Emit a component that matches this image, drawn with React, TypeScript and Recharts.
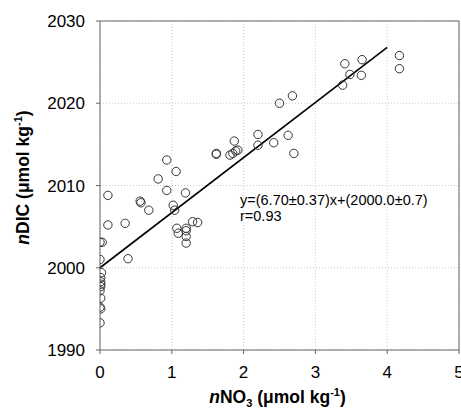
import React from "react"
import {
    ScatterChart,
    Scatter,
    XAxis,
    YAxis,
    CartesianGrid,
    ReferenceLine,
    Customized,
} from "recharts"

// nNO3 (x) and nDIC (y)
const nitrate = [
    0, 0.03, 0, 0.02, 0.01, 0.01, 0.01, 0.01, 0, 0.01, 0, 0.01, 0,
    0.11, 0.11, 0.35, 0.39, 0.56, 0.57, 0.68, 0.81, 0.93, 1.06, 0.93, 1.19,
    1.02, 1.04, 1.07, 1.09, 1.2, 1.2, 1.2, 1.2, 1.29, 1.36,
    1.62, 1.62, 1.81, 1.85, 1.89, 1.92, 1.87, 2.2, 2.2, 2.42, 2.62, 2.7,
    2.5, 2.68, 3.41, 3.65, 3.48, 3.64, 3.38, 4.17, 4.17,
]
const dic = [
    2003.1, 2003.1, 2001.0, 1999.4, 1998.8, 1998.3, 1998.0, 1997.7, 1997.2, 1996.3, 1995.2, 1995.0, 1993.3,
    2008.8, 2005.2, 2005.4, 2001.1, 2008.1, 2007.9, 2007.0, 2010.8, 2013.1, 2011.7, 2009.4, 2009.1,
    2007.6, 2007.0, 2004.8, 2004.2, 2004.8, 2004.5, 2003.8, 2003.0, 2005.6, 2005.5,
    2013.9, 2013.8, 2013.7, 2013.9, 2014.2, 2014.3, 2015.4, 2016.2, 2014.9, 2015.2, 2016.1, 2013.9,
    2020.0, 2020.9, 2024.8, 2025.3, 2023.5, 2023.4, 2022.2, 2025.8, 2024.2,
]

const xTicks = [0, 1, 2, 3, 4, 5]
const yTicks = [1990, 2000, 2010, 2020, 2030]

// regression y = 6.70x + 2000.0, drawn from x=0 to x=4
const fitX = [0, 4]
const fitY = [2000.0, 2026.8]

const fitText = "y=(6.70±0.37)x+(2000.0±0.7)"
const rText = "r=0.93"

const data = nitrate.map((x, i) => ({ x, y: dic[i] }))

const FONT = "Arial, 'Liberation Sans', sans-serif"
const AXIS = "#666"

const OpenCircle = (props: any) => (
    <circle cx={props.cx} cy={props.cy} r={4.2} fill="none" stroke="#333" strokeWidth={1} />
)

const XTitle = ({ viewBox }: any) => {
    const cx = viewBox.x + viewBox.width / 2 - 2
    return (
        <text x={cx} y={403} textAnchor="middle" fontFamily={FONT} fontSize={17.5} fontWeight="bold" fill="#000">
            <tspan fontStyle="italic">n</tspan>
            <tspan>NO</tspan>
            <tspan fontSize={11} dy={4}>3</tspan>
            <tspan dy={-4}> (μmol kg</tspan>
            <tspan fontSize={11} dy={-7}>-1</tspan>
            <tspan dy={7}>)</tspan>
        </text>
    )
}

const YTitle = ({ viewBox }: any) => {
    const cy = viewBox.y + viewBox.height / 2 - 8
    return (
        <text
            transform={`translate(29, ${cy}) rotate(-90)`}
            textAnchor="middle"
            fontFamily={FONT}
            fontSize={17.5}
            fontWeight="bold"
            fill="#000"
        >
            <tspan fontStyle="italic">n</tspan>
            <tspan>DIC (μmol kg</tspan>
            <tspan fontSize={11} dy={-7}>-1</tspan>
            <tspan dy={7}>)</tspan>
        </text>
    )
}

const Annotation = () => (
    <g fontFamily={FONT} fontSize={14.5} fill="#000">
        <text x={240} y={205}>{fitText}</text>
        <text x={240} y={221}>{rText}</text>
    </g>
)

export default function App() {
    return (
        <div style={{ position: "absolute", left: 0, top: 0 }}>
            <ScatterChart width={461} height={408} margin={{ top: 21, right: 2, bottom: 0, left: 0 }}>
                <CartesianGrid stroke="#ccc" strokeDasharray="1 2" />
                <XAxis
                    type="number"
                    dataKey="x"
                    domain={[0, 5]}
                    ticks={xTicks}
                    interval={0}
                    height={58}
                    stroke={AXIS}
                    tickSize={4}
                    tickMargin={12}
                    tick={{ fill: "#000", fontSize: 17, fontFamily: FONT }}
                    label={{ content: XTitle }}
                    allowDataOverflow
                />
                <YAxis
                    type="number"
                    dataKey="y"
                    domain={[1990, 2030]}
                    ticks={yTicks}
                    interval={0}
                    width={100}
                    stroke={AXIS}
                    tickSize={4}
                    tickMargin={11}
                    tick={{ fill: "#000", fontSize: 17, fontFamily: FONT }}
                    label={{ content: YTitle }}
                    allowDataOverflow
                />
                <ReferenceLine y={2030} stroke={AXIS} />
                <ReferenceLine x={5} stroke={AXIS} />
                <ReferenceLine
                    segment={[
                        { x: fitX[0], y: fitY[0] },
                        { x: fitX[1], y: fitY[1] },
                    ]}
                    stroke="#000"
                    strokeWidth={1.6}
                />
                <Scatter data={data} shape={OpenCircle} isAnimationActive={false} />
                <Customized component={Annotation} />
            </ScatterChart>
        </div>
    )
}
